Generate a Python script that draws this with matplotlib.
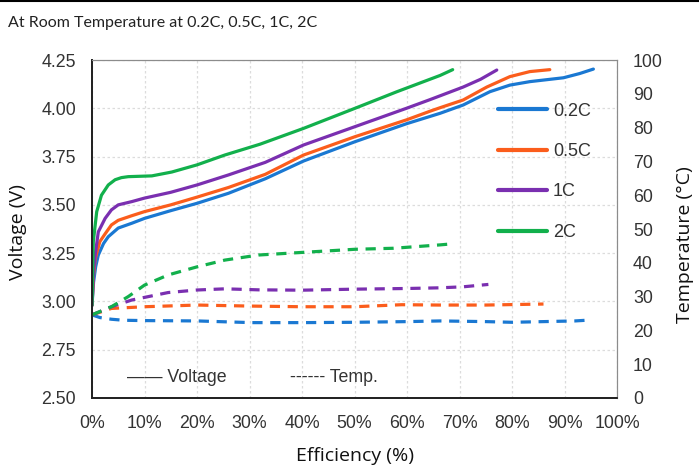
#!/usr/bin/env python
#==============================================================================#
#       Voltage / Temperature vs Efficiency at room temperature
#==============================================================================#
import numpy as np
import matplotlib
matplotlib.use('Agg')
import matplotlib.pyplot as plt
from matplotlib.lines import Line2D

#==============================================================================#
#                               Data
#==============================================================================#
rates = ['0.2C', '0.5C', '1C', '2C']
colors = ['#1a78d2', '#fb5d1c', '#7a2fb0', '#12b04c']

# voltage curves (efficiency %, V)
v02_x = [0, 0.3, 0.7, 1.2, 2.2, 3.1, 5, 7.6, 10, 15, 20, 26, 33, 40.3, 50.1, 59.9, 66.3, 70.7, 75.8, 79.6, 83.4, 89.8, 92.9, 95.5]
v02_y = [2.98, 3.10, 3.18, 3.24, 3.30, 3.335, 3.38, 3.405, 3.43, 3.47, 3.508, 3.56, 3.635, 3.727, 3.827, 3.92, 3.974, 4.017, 4.086, 4.12, 4.138, 4.158, 4.18, 4.203]
v05_x = [0, 0.3, 0.6, 1.5, 2.5, 3.7, 5, 7.6, 10, 15, 20, 26, 33, 40.3, 50.1, 59.9, 64.4, 66.3, 70.7, 75.2, 79.6, 83.4, 87.2]
v05_y = [2.98, 3.14, 3.22, 3.31, 3.35, 3.396, 3.42, 3.444, 3.465, 3.50, 3.54, 3.59, 3.658, 3.758, 3.853, 3.94, 3.985, 4.003, 4.043, 4.11, 4.164, 4.19, 4.20]
v1_x = [0, 0.3, 0.6, 1.2, 2.5, 3.7, 5, 7.6, 10, 15, 20, 26, 33, 40.3, 50.1, 59.9, 64.4, 70.7, 74, 77.1]
v1_y = [2.98, 3.16, 3.24, 3.36, 3.43, 3.474, 3.50, 3.517, 3.535, 3.565, 3.603, 3.655, 3.72, 3.81, 3.905, 4.0, 4.045, 4.11, 4.15, 4.198]
v2_x = [0, 0.25, 0.9, 1.8, 3.1, 4.4, 5.6, 6.9, 11.4, 15.2, 20, 25.3, 32, 40.3, 50.1, 58, 66.3, 68.7]
v2_y = [2.98, 3.31, 3.465, 3.55, 3.603, 3.63, 3.641, 3.646, 3.65, 3.67, 3.707, 3.758, 3.814, 3.896, 4.0, 4.085, 4.17, 4.20]

# temperature curves (efficiency %, deg C)
t02_x = [0, 1.5, 3.7, 6, 10, 20, 30.4, 40, 50, 60, 66.3, 75, 80, 86, 92, 95.2]
t02_y = [24.6, 23.8, 23.3, 23.0, 22.9, 22.8, 22.3, 22.3, 22.4, 22.6, 22.8, 22.6, 22.4, 22.6, 22.8, 23.1]
t05_x = [0, 3.7, 10, 20, 30, 40, 50, 59, 66, 75, 86]
t05_y = [24.6, 26.5, 27.0, 27.5, 27.2, 27.0, 27.0, 27.6, 27.5, 27.5, 27.8]
t1_x = [0, 3.7, 7.6, 14.5, 20, 25.3, 31.7, 40, 50, 60, 66.3, 70.7, 75.5]
t1_y = [24.6, 27.0, 29.0, 31.2, 31.95, 32.3, 32.0, 31.9, 32.2, 32.4, 32.6, 32.9, 33.6]
t2_x = [0, 3.7, 6.9, 10, 14.5, 20, 25.3, 31.7, 40.3, 50.1, 57.4, 66.3, 68.5]
t2_y = [24.6, 27.0, 30.0, 33.4, 36.4, 38.8, 40.8, 42.3, 43.1, 44.0, 44.3, 45.3, 45.6]

volt = [(v02_x, v02_y), (v05_x, v05_y), (v1_x, v1_y), (v2_x, v2_y)]
temp = [(t02_x, t02_y), (t05_x, t05_y), (t1_x, t1_y), (t2_x, t2_y)]

#==============================================================================#
#                               Plot
#==============================================================================#
plt.rcParams['font.family'] = ['Liberation Sans', 'DejaVu Sans']
label_font = 'Open Sans'
tick_color = '#333333'

fig = plt.figure(figsize=(6.99, 4.71), dpi=100)
ax = fig.add_axes([92/699, 1-398/471, 525/699, 338/471])
ax2 = ax.twinx()

handles = []
for (x, y), c, r in zip(volt, colors, rates):
    h, = ax.plot(x, y, color=c, lw=2.3, label=r, solid_capstyle='round',
                 solid_joinstyle='round')
    handles.append(h)
for (x, y), c in zip(temp, colors):
    ax2.plot(x, y, color=c, lw=2.3, dashes=(3.2, 2.4))

ax.set_xlim(0, 100)
ax.set_ylim(2.5, 4.25)
ax2.set_ylim(0, 100)
ax.set_xticks(np.arange(0, 101, 10))
ax.set_xticklabels(['%d%%' % v for v in range(0, 101, 10)])
ax.set_yticks(np.arange(2.5, 4.26, 0.25))
ax.set_yticklabels(['%.2f' % v for v in np.arange(2.5, 4.26, 0.25)])
ax2.set_yticks(np.arange(0, 101, 10))

ax.grid(True, color='#dcdcdc', lw=0.9, linestyle=(0, (2, 2)))
ax.set_axisbelow(True)
for a in (ax, ax2):
    a.tick_params(length=0, labelsize=12.8, colors=tick_color)
ax.tick_params(axis='x', pad=12.5)
ax.tick_params(axis='y', pad=11.5)
ax2.tick_params(axis='y', pad=11.5)

for a in (ax, ax2):
    a.spines['left'].set_color('#222222')
    a.spines['bottom'].set_color('#222222')
    a.spines['left'].set_linewidth(1.3)
    a.spines['bottom'].set_linewidth(1.3)
    a.spines['top'].set_color('#8c8c8c')
    a.spines['right'].set_color('#8c8c8c')

leg = ax.legend(handles=handles, loc='center left', bbox_to_anchor=(0.773, 0.6695),
                frameon=False, handlelength=2.75, handletextpad=0.3,
                labelspacing=1.3, borderpad=0, borderaxespad=0,
                prop={'size': 13})
for t in leg.get_texts():
    t.set_color(tick_color)
for l in leg.get_lines():
    l.set_linewidth(3)

ax.text(0.066, 0.06, '\u2014\u2014 Voltage', transform=ax.transAxes, va='center',
        ha='left', fontsize=12.8, color=tick_color)
ax.text(0.377, 0.06, '------ Temp.', transform=ax.transAxes, va='center',
        ha='left', fontsize=12.8, color=tick_color)

fig.text(8/699, 1-27/471, 'At Room Temperature at 0.2C, 0.5C, 1C, 2C',
         family='Lato', fontsize=11.5, va='baseline', ha='left', color='#222222')
fig.text(354.5/699, 1-456/471, 'Efficiency (%)', family=label_font, fontsize=14,
         ha='center', va='center', color='#111111')
fig.text(18/699, 1-232/471, 'Voltage (V)', family=label_font, fontsize=14,
         rotation=90, ha='center', va='center', color='#111111')
fig.text(685/699, 1-245/471, 'Temperature (\u00b0C)', family=label_font, fontsize=14,
         rotation=90, ha='center', va='center', color='#111111')

fig.add_artist(Line2D([0, 1], [1-0.8/471, 1-0.8/471], color='black', lw=1.5,
                      transform=fig.transFigure))

plt.savefig('out.png', dpi=100)
